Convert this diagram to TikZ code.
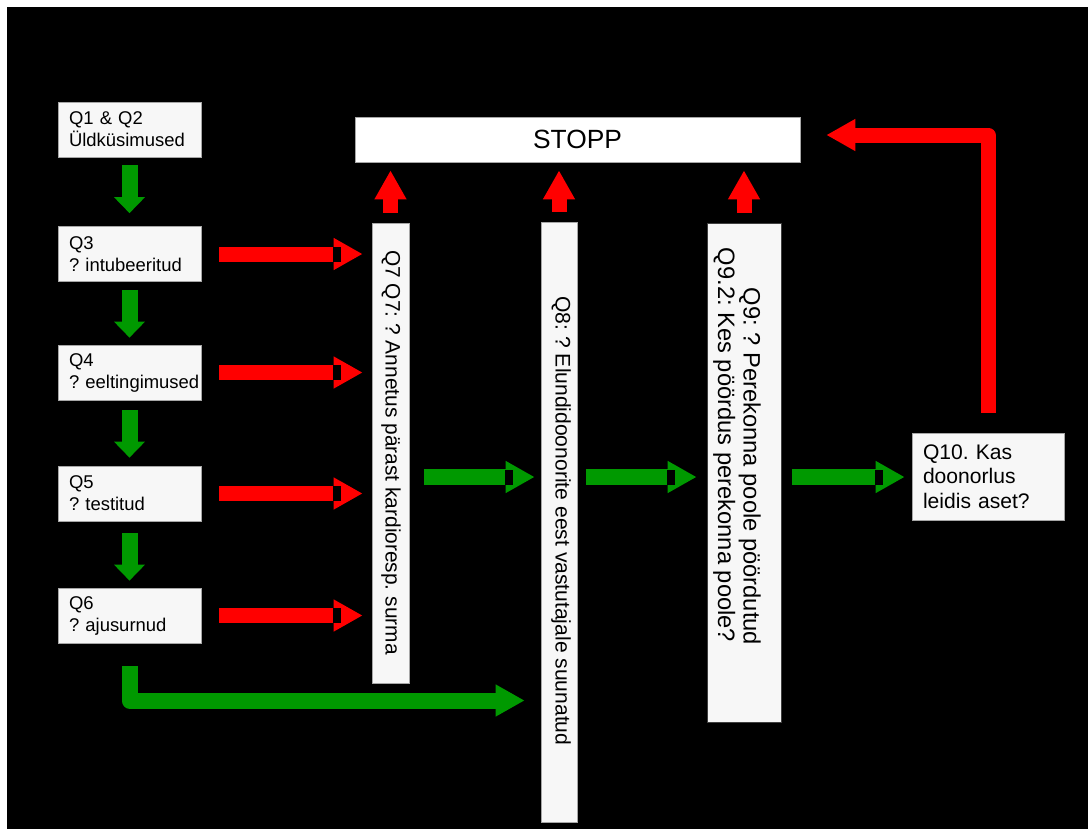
\documentclass[tikz,border=0pt]{standalone}
\usepackage{fontspec}
\setmainfont{Liberation Sans}
\usepackage{tikz}
\usetikzlibrary{arrows.meta,calc}
\definecolor{flowgreen}{RGB}{0,153,0}
\definecolor{boxgray}{RGB}{247,247,247}
\tikzstyle{qbox}=[draw=gray!70, fill=boxgray, inner sep=0pt]
\tikzstyle{leftbox}=[qbox, text width=2.42cm, inner xsep=0.22cm, minimum height=1.1cm, align=left, font=\fontsize{10.5}{12.5}\selectfont]
\tikzstyle{sidetext}=[rotate=-90, align=left, inner sep=0pt]
\tikzstyle{stopbar}=[draw=gray!70, fill=white, inner sep=0pt, minimum width=8.9cm, minimum height=0.9cm, font=\fontsize{15}{18}\selectfont]
\tikzstyle{redgo}=[red, line width=0.3cm, -{Triangle[length=0.58cm,width=0.6cm]}]
\tikzstyle{greengo}=[flowgreen, line width=0.32cm, -{Triangle[length=0.58cm,width=0.6cm]}]
\tikzstyle{greendown}=[flowgreen, line width=0.32cm, -{Triangle[length=0.32cm,width=0.6cm]}]
\newcommand{\headnotch}[2]{
	\fill[black] ($#1+(-#2-30,-7.5)$) rectangle ($#1+(-#2-22,7.5)$);
}

\begin{document}
\frenchspacing
\begin{tikzpicture}[x=0.02cm, y=-0.02cm]
	\useasboundingbox[fill=white] (0,0) rectangle (1088,829);
	\fill[black] (7,7) rectangle (1088,829);
	% question boxes
	\node[leftbox] (q12) at (129.5,129.5) {Q1 \& Q2\\Üldküsimused};
	\node[leftbox] (q3) at (129.5,254) {Q3\\\mbox{? intubeeritud}};
	\node[leftbox] (q4) at (129.5,372.5) {Q4\\\mbox{? eeltingimused}};
	\node[leftbox] (q5) at (129.5,493.5) {Q5\\\mbox{? testitud}};
	\node[leftbox] (q6) at (129.5,615.5) {Q6\\\mbox{? ajusurnud}};
	\node[qbox, minimum width=0.74cm, minimum height=9.2cm] (q7) at (390.5,453) {};
	\node[qbox, minimum width=0.72cm, minimum height=12cm] (q8) at (559,522) {};
	\node[qbox, draw=gray!50!black, minimum width=1.48cm, minimum height=9.98cm] (q9) at (744,472.5) {};
	\node[qbox, text width=2.6cm, inner xsep=0.22cm, minimum height=1.74cm, align=left, font=\fontsize{12}{13.9}\selectfont] (q10) at (988,476.5) {Q10. Kas\\doonorlus\\leidis aset?};
	\node[stopbar] (stopp) at (577.5,139.5) {STOPP};
	\node[sidetext, font=\fontsize{11.9}{14}\selectfont] (q7text) at (391,452.5) {Q7 Q7: ? Annetus pärast kardioresp. surma};
	\node[sidetext, font=\fontsize{12}{14}\selectfont] (q8text) at (561,521) {Q8: ? Elundidoonorite eest vastutajale suunatud};
	\node[sidetext, font=\fontsize{13.5}{14.5}\selectfont] (q9text) at (737,446.5) {\hspace*{0.8cm}Q9: ? Perekonna poole pöördutud\\Q9.2: Kes pöördus perekonna poole?};
	% down the left column
	\draw[greendown, shorten <=0.16cm, shorten >=0.26cm] (q12) -- (q3);
	\draw[greendown, shorten <=0.16cm, shorten >=0.14cm] (q3) -- (q4);
	\draw[greendown, shorten <=0.2cm, shorten >=0.16cm] (q4) -- (q5);
	\draw[greendown, shorten <=0.24cm, shorten >=0.14cm] (q5) -- (q6);
	% no -> Q7
	\draw[redgo, shorten <=0.36cm, shorten >=0.18cm] (q3.east) -- (q3.east -| q7.west);
	\headnotch{(q3.east -| q7.west)}{9}
	\draw[redgo, shorten <=0.36cm, shorten >=0.18cm] (q4.east) -- (q4.east -| q7.west);
	\headnotch{(q4.east -| q7.west)}{9}
	\draw[redgo, shorten <=0.36cm, shorten >=0.18cm] (q5.east) -- (q5.east -| q7.west);
	\headnotch{(q5.east -| q7.west)}{9}
	\draw[redgo, shorten <=0.36cm, shorten >=0.18cm] (q6.east) -- (q6.east -| q7.west);
	\headnotch{(q6.east -| q7.west)}{9}
	% up to STOPP
	\draw[redgo, shorten <=0.2cm, shorten >=0.16cm] (q7.north) -- (q7.north |- stopp.south);
	\draw[redgo, shorten <=0.2cm, shorten >=0.16cm] (q8.north) -- (q8.north |- stopp.south);
	\draw[redgo, shorten <=0.2cm, shorten >=0.16cm] (q9.north) -- (q9.north |- stopp.south);
	% main row
	\coordinate (flowrow) at (0,477);
	\draw[greengo, shorten <=0.3cm, shorten >=0.12cm] (q7.east |- flowrow) -- (q8.west |- flowrow);
	\headnotch{(q8.west |- flowrow)}{6}
	\draw[greengo, shorten <=0.18cm, shorten >=0.2cm] (q8.east |- flowrow) -- (q9.west |- flowrow);
	\headnotch{(q9.west |- flowrow)}{10}
	\draw[greengo, shorten <=0.22cm, shorten >=0.14cm] (q9.east |- flowrow) -- (q10.west |- flowrow);
	\headnotch{(q10.west |- flowrow)}{7}
	% bends
	\coordinate (lowrow) at (0,700.5);
	\draw[greengo, line join=round, shorten <=0.46cm, shorten >=0.32cm] (q6.south) -- (q6.south |- lowrow) -- (q8.west |- lowrow);
	\coordinate (toprow) at (0,135);
	\draw[redgo, line join=round, shorten <=0.4cm, shorten >=0.52cm] (q10.north) -- (q10.north |- toprow) -- (stopp.east |- toprow);
\end{tikzpicture}
\end{document}
